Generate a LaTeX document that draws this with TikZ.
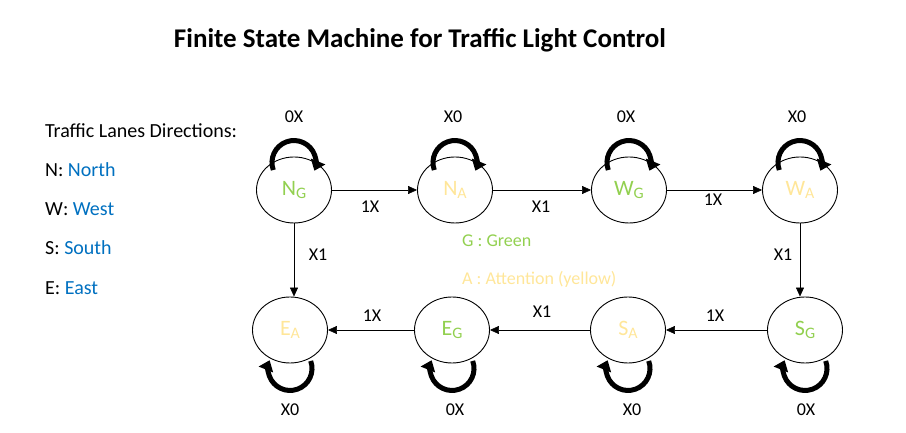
\documentclass[tikz,border=0pt]{standalone}
\usepackage{fontspec}
\setmainfont{Carlito}
\usetikzlibrary{arrows.meta,shapes.geometric}
\definecolor{lgreen}{HTML}{92D050}
\definecolor{lyellow}{HTML}{FFE699}
\definecolor{wblue}{HTML}{0070C0}
\newcommand{\mysub}[1]{\raisebox{-0.12em}{\fontsize{16}{18}\selectfont #1}}
\begin{document}
\begin{tikzpicture}[x=1pt,y=1pt,
  state/.style={draw,line width=0.9pt,ellipse,minimum width=75pt,minimum height=66pt,inner sep=0pt,font=\fontsize{22}{24}\selectfont},
  trans/.style={draw,line width=0.6pt,-{Triangle[length=9pt,width=8pt]}},
  loopst/.style={line width=5pt,-{Triangle[length=10pt,width=15pt]}},
  lbl/.style={font=\fontsize{18}{20}\selectfont,inner sep=0pt},
  leg/.style={font=\fontsize{20}{22}\selectfont,anchor=west,inner sep=0pt}]
\useasboundingbox (0,0) rectangle (906,433);
\node[font=\fontsize{27}{30}\selectfont\bfseries] (title) at (420,393) {Finite State Machine for Traffic Light Control};
% legend
\node[leg] (l0) at (45,302) {Traffic Lanes Directions:};
\node[leg] (l1) at (45,263) {N: \textcolor{wblue}{North}};
\node[leg] (l2) at (45,224) {W: \textcolor{wblue}{West}};
\node[leg] (l3) at (45,185) {S: \textcolor{wblue}{South}};
\node[leg] (l4) at (45,145) {E: \textcolor{wblue}{East}};
\node[leg,font=\fontsize{18}{20}\selectfont,text=lgreen] (g) at (462,192) {G : Green};
\node[leg,font=\fontsize{18}{20}\selectfont,text=lyellow] (a) at (462,154) {A : Attention (yellow)};
% states
\node[state,text=lgreen] (ng) at (294,243) {N\mysub{G}};
\node[state,text=lyellow] (na) at (455,243) {N\mysub{A}};
\node[state,text=lgreen] (wg) at (629,243) {W\mysub{G}};
\node[state,text=lyellow] (wa) at (800,243) {W\mysub{A}};
\node[state,text=lyellow] (ea) at (290,103) {E\mysub{A}};
\node[state,text=lgreen] (eg) at (452,103) {E\mysub{G}};
\node[state,text=lyellow] (sa) at (628,103) {S\mysub{A}};
\node[state,text=lgreen] (sg) at (805,103) {S\mysub{G}};
% transitions
\draw[trans] (ng) -- (na);
\draw[trans] (na) -- (wg);
\draw[trans] (wg) -- (wa);
\draw[trans] (ng) -- (ng |- ea.north);
\draw[trans] (wa) -- (wa |- sg.north);
\draw[trans] (sg) -- (sa);
\draw[trans] (sa) -- (eg);
\draw[trans] (eg) -- (ea);
\node[lbl] (t1) at (370,226) {1X};
\node[lbl] (t2) at (541,226) {X1};
\node[lbl] (t3) at (713,233) {1X};
\node[lbl] (t4) at (318,178) {X1};
\node[lbl] (t5) at (783,178) {X1};
\node[lbl] (t6) at (715,117) {1X};
\node[lbl] (t7) at (542,121) {X1};
\node[lbl] (t8) at (372,117) {1X};
% self loops top
\foreach \n in {ng,na,wg,wa}{
  \draw[loopst] ([shift={(-20.7,-13.5)}]\n.north) arc[start angle=200,end angle=-22,radius=22];
}
% self loops bottom
\foreach \n in {ea,eg,sa,sg}{
  \draw[loopst] ([shift={(20.7,2.5)}]\n.south) arc[start angle=20,end angle=-202,radius=22];
}
\node[lbl] (s1) at (294,316) {0X};
\node[lbl] (s2) at (453,316) {X0};
\node[lbl] (s3) at (626,316) {0X};
\node[lbl] (s4) at (797,316) {X0};
\node[lbl] (s5) at (290,23) {X0};
\node[lbl] (s6) at (455,23) {0X};
\node[lbl] (s7) at (632,23) {X0};
\node[lbl] (s8) at (806,23) {0X};
\end{tikzpicture}
\end{document}
